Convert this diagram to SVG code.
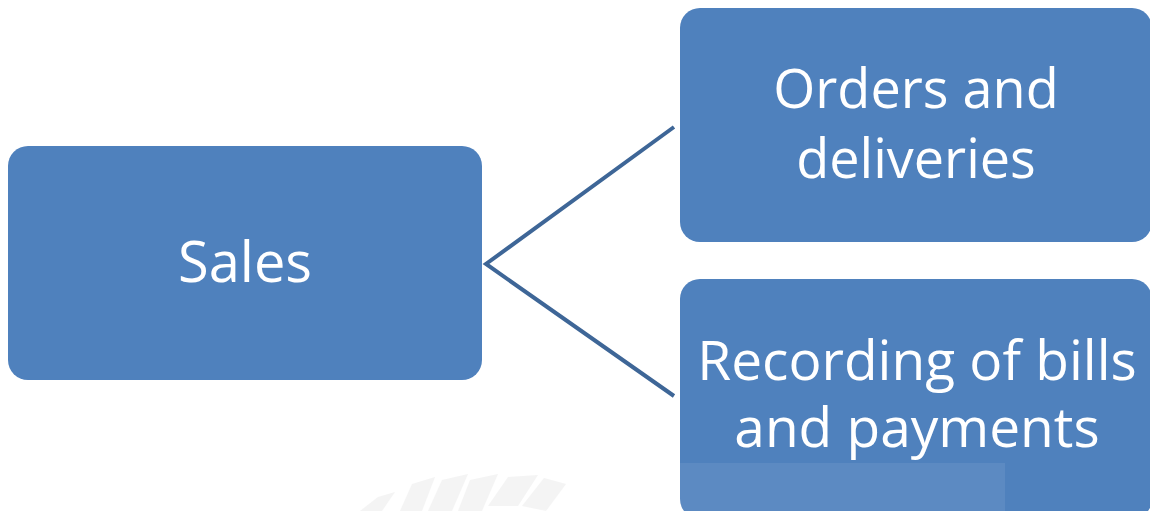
<svg xmlns="http://www.w3.org/2000/svg" width="1150" height="511" viewBox="0 0 1150 511">
<style>
.box{fill:#4F81BD;}
.lbl{fill:#FFFFFF;font-family:"Open Sans","Noto Sans","Liberation Sans",sans-serif;text-anchor:middle;}
.conn{stroke:#3E6697;stroke-width:4;fill:none;stroke-linecap:butt;stroke-linejoin:miter;}
</style>
<rect x="0" y="0" width="1150" height="511" fill="#FFFFFF"/>
<g id="connectors">
<polyline class="conn" points="674,127 486,264 674,396"/>
</g>
<g id="node-sales">
<rect class="box" x="8" y="146" width="474" height="234" rx="20" ry="20"/>
<text class="lbl" x="245" y="282" font-size="56">Sales</text>
</g>
<g id="node-orders">
<rect class="box" x="680" y="8" width="472" height="234" rx="20" ry="20"/>
<text class="lbl" x="916" y="108" font-size="54">Orders and</text>
<text class="lbl" x="916" y="178" font-size="54">deliveries</text>
</g>
<g id="node-recording">
<rect class="box" x="680" y="279" width="472" height="240" rx="20" ry="20"/>
<text class="lbl" x="917" y="380" font-size="55">Recording of bills</text>
<text class="lbl" x="917" y="447" font-size="55">and payments</text>
</g>
<g id="watermark">
<rect x="210" y="463" width="795" height="48" fill="#FFFFFF" opacity="0.08"/>
<g fill="#EEEEEE" opacity="0.6">
<path d="M360,511 L378,497 L395,492 L382,511 Z"/>
<path d="M400,511 L412,484 L435,477 L422,511 Z"/>
<path d="M428,511 L442,480 L468,474 L452,511 Z"/>
<path d="M458,511 L470,480 L498,474 L482,511 Z"/>
<path d="M488,506 L508,477 L538,475 L518,506 Z"/>
<path d="M522,506 L544,478 L566,484 L546,511 Z"/>
</g>
</g>
</svg>
